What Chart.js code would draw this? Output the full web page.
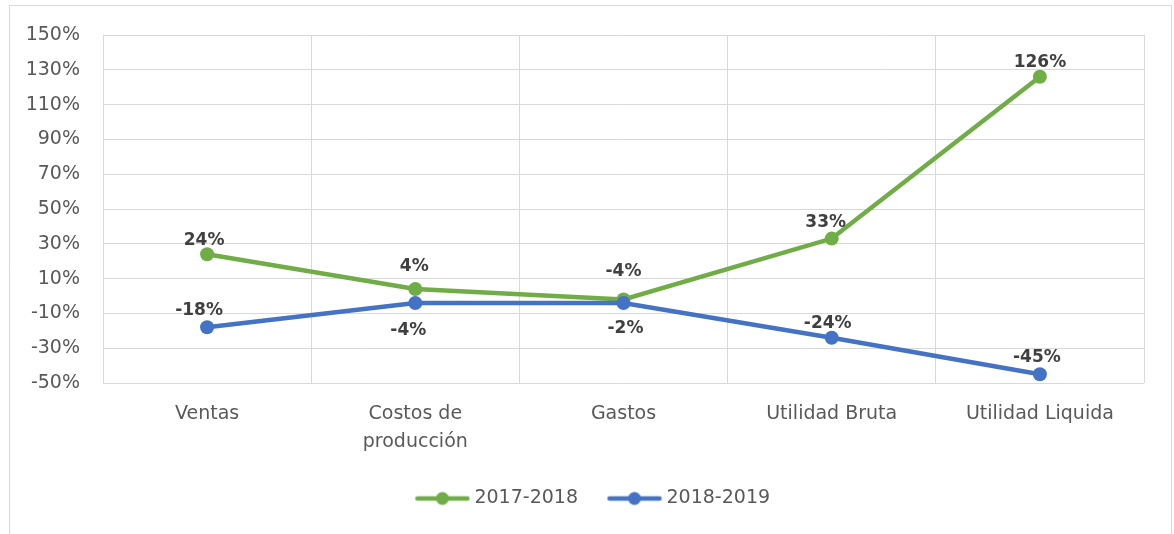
<!DOCTYPE html>
<html lang="es">
<head>
<meta charset="utf-8">
<title>Variación por rubro</title>
<script src="https://cdn.jsdelivr.net/npm/chart.js@4.4.0/dist/chart.umd.min.js"></script>
<style>
  html, body { margin: 0; padding: 0; background: #fff; }
  #wrap { position: relative; width: 1174px; height: 534px; }
</style>
</head>
<body>
<div id="wrap"><canvas id="var-chart"></canvas></div>
<script>
// ── Data ──────────────────────────────────────────────────────────────────────
const categories = ["Ventas", ["Costos de", "producción"], "Gastos", "Utilidad Bruta", "Utilidad Liquida"];
const serie1718  = [24, 4, -2, 33, 126];
const serie1819  = [-18, -4, -4, -24, -45];
const yTicks     = [-50, -30, -10, 10, 30, 50, 70, 90, 110, 130, 150];

// label nudges (px) relative to each point
const labelPos1718 = [[-3, -14], [-1, -22], [2, 29], [-6, -16], [0, -14]];
const labelPos1819 = [[-8, -17], [-7, 28], [0, -31], [-4, -14], [-3, -17]];

const GREEN = "#70AD47";
const BLUE  = "#4472C4";
const GRID  = "#d9d9d9";
const FONT  = "'DejaVu Sans', sans-serif";

// ── Legend swatch: line with a dot in the middle ──────────────────────────────
function swatch(color) {
  const c = document.createElement("canvas");
  c.width = 56; c.height = 16;
  const ctx = c.getContext("2d");
  ctx.strokeStyle = color;
  ctx.lineWidth = 4.5;
  ctx.lineCap = "round";
  ctx.beginPath();
  ctx.moveTo(3, 8); ctx.lineTo(53, 8);
  ctx.stroke();
  ctx.fillStyle = color;
  ctx.beginPath();
  ctx.arc(28, 8, 6.5, 0, Math.PI * 2);
  ctx.fill();
  return c;
}

// ── Plugins ───────────────────────────────────────────────────────────────────
const frame = {
  id: "frame",
  beforeDraw(chart) {
    const ctx = chart.ctx;
    ctx.save();
    ctx.strokeStyle = GRID;
    ctx.lineWidth = 1;
    ctx.beginPath();
    ctx.moveTo(9.5, 534);
    ctx.lineTo(9.5, 5.5);
    ctx.lineTo(1171.5, 5.5);
    ctx.lineTo(1171.5, 534);
    ctx.stroke();
    ctx.restore();
  }
};

// nudge the legend row a little to the right
const legendShift = {
  id: "legendShift",
  afterLayout(chart) {
    if (!chart.legend) return;
    chart.legend.left  += 23;
    chart.legend.right += 23;
  }
};

const pointLabels = {
  id: "pointLabels",
  afterDatasetsDraw(chart) {
    const ctx = chart.ctx;
    ctx.save();
    ctx.font = "bold 17px " + FONT;
    ctx.fillStyle = "#404040";
    ctx.textAlign = "center";
    ctx.textBaseline = "middle";
    chart.data.datasets.forEach((ds, i) => {
      const meta = chart.getDatasetMeta(i);
      meta.data.forEach((pt, j) => {
        const [dx, dy] = ds.labelPos[j];
        ctx.fillText(ds.data[j] + "%", pt.x + dx, pt.y + dy);
      });
    });
    ctx.restore();
  }
};

// ── Chart ─────────────────────────────────────────────────────────────────────
new Chart(document.getElementById("var-chart"), {
  type: "line",
  data: {
    labels: categories,
    datasets: [
      {
        label:                "2017-2018",
        data:                 serie1718,
        labelPos:             labelPos1718,
        borderColor:          GREEN,
        backgroundColor:      GREEN,
        borderWidth:          4.5,
        pointRadius:          7,
        pointBackgroundColor: GREEN,
        pointBorderWidth:     0,
        tension:              0,
        order:                2
      },
      {
        label:                "2018-2019",
        data:                 serie1819,
        labelPos:             labelPos1819,
        borderColor:          BLUE,
        backgroundColor:      BLUE,
        borderWidth:          4.5,
        pointRadius:          7,
        pointBackgroundColor: BLUE,
        pointBorderWidth:     0,
        tension:              0,
        order:                1
      }
    ]
  },
  options: {
    responsive:          true,
    maintainAspectRatio: false,
    animation:           false,
    layout: { padding: { top: 35, left: 0, right: 30, bottom: 16 } },
    plugins: {
      tooltip: { enabled: false },
      legend: {
        position: "bottom",
        labels: {
          color:           "#595959",
          font:            { family: FONT, size: 19 },
          usePointStyle:   true,
          pointStyleWidth: 45,
          padding:         34,
          sort: (a, b) => a.datasetIndex - b.datasetIndex,
          generateLabels: chart => {
            const items = Chart.defaults.plugins.legend.labels.generateLabels(chart);
            items.forEach(it => {
              it.pointStyle = swatch(chart.data.datasets[it.datasetIndex].borderColor);
            });
            return items;
          }
        }
      }
    },
    scales: {
      x: {
        offset: true,
        grid:   { color: GRID, offset: true, drawTicks: false },
        border: { display: false },
        ticks:  {
          color:      "#595959",
          font:       { family: FONT, size: 19, lineHeight: 1.47 },
          padding:    17,
          maxRotation: 0,
          autoSkip:   false
        },
        afterFit: s => { s.height = 72; }
      },
      y: {
        min: -50,
        max: 150,
        afterBuildTicks: s => { s.ticks = yTicks.map(v => ({ value: v })); },
        grid:   { color: GRID, drawTicks: false },
        border: { display: false },
        ticks:  {
          color:    "#595959",
          font:     { family: FONT, size: 19 },
          padding:  23,
          callback: v => v + "%"
        },
        afterFit: s => { s.width = 103; }
      }
    }
  },
  plugins: [frame, legendShift, pointLabels]
});
</script>
</body>
</html>
